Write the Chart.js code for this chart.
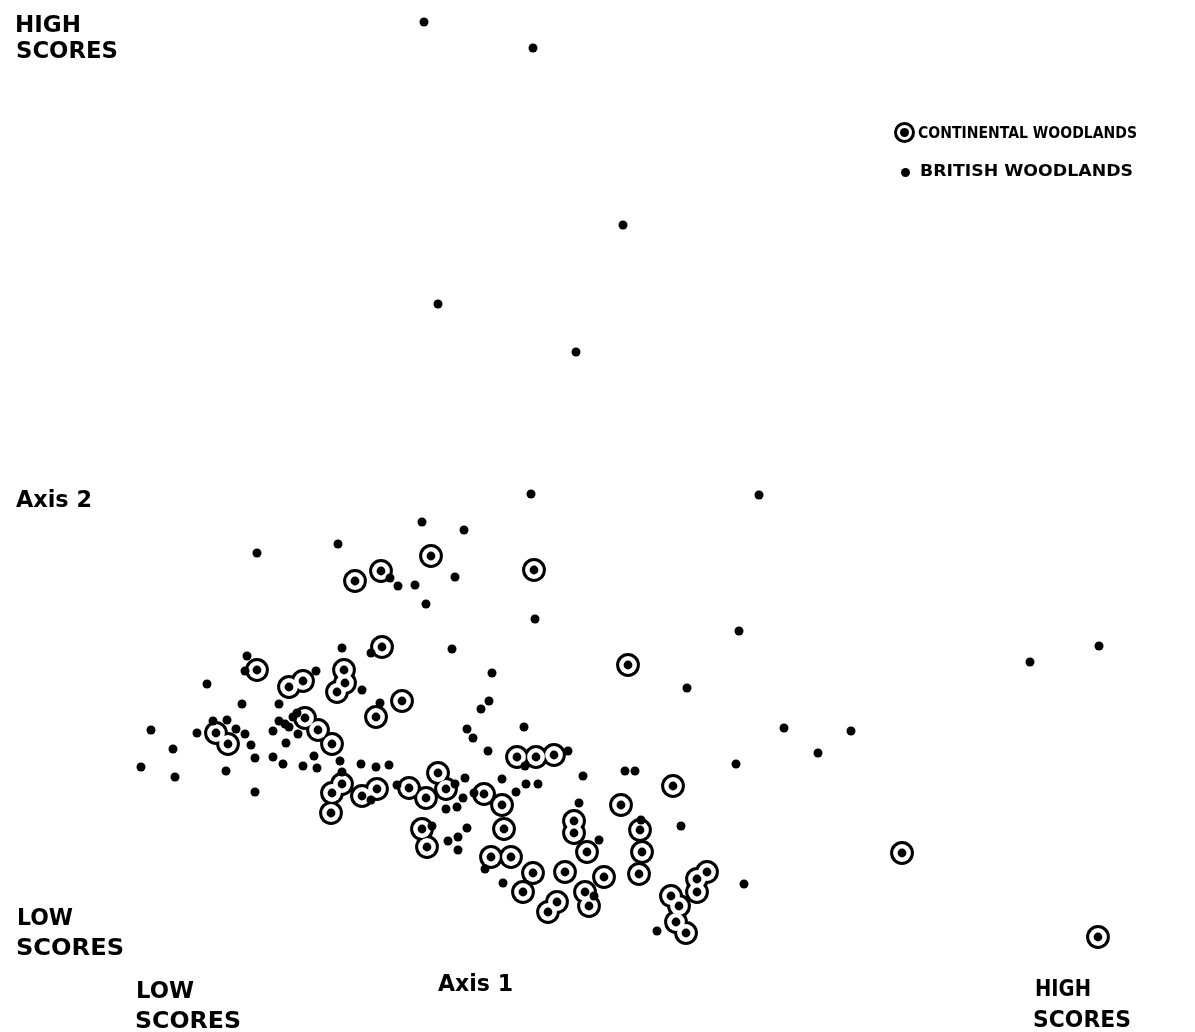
<!DOCTYPE html>
<html>
<head>
<meta charset="utf-8">
<script src="https://cdn.jsdelivr.net/npm/chart.js@4/dist/chart.umd.min.js"></script>
<style>
  html, body { margin: 0; padding: 0; background: #fff; }
  #wrap { position: absolute; left: 0; top: 0; width: 1195px; height: 1032px; }
  .lbl { position: absolute; font-family: "DejaVu Sans", sans-serif; font-weight: bold; color: #000;
         line-height: 1; white-space: nowrap; transform-origin: 0 0; }
  .sym-ring { position: absolute; width: 15px; height: 15px; border: 3px solid #000; border-radius: 50%; background: #fff; }
  .sym-dot { position: absolute; width: 9px; height: 9px; border-radius: 50%; background: #000; }
</style>
</head>
<body>
<div id="wrap"><canvas id="c" width="1195" height="1032"></canvas></div>
<div id="labels"></div>
<script>
// Axis 1 / Axis 2 scores (arbitrary units)
const britishAxis1 = [42.4,53.3,62.3,43.8,57.6,53.1,75.9,42.2,46.4,25.7,33.8,39.0,39.8,41.5,45.5,42.6,53.5,73.9,34.2,37.1,45.2,24.7,24.5,31.6,103.0,109.9,49.2,68.7,20.7,36.2,48.9,48.1,38.0,24.2,27.9,21.3,22.7,15.1,19.7,23.6,24.5,25.1,17.3,14.1,17.5,22.6,25.5,25.5,27.9,28.5,29.3,29.7,27.3,29.8,28.9,28.6,27.3,28.3,30.3,31.4,31.7,34.0,34.2,36.1,37.6,38.9,37.1,39.7,45.5,46.5,46.3,45.7,44.6,47.4,43.2,44.8,45.8,46.7,45.8,48.5,50.3,46.7,47.3,48.8,52.4,56.8,52.5,50.2,52.6,53.8,51.6,58.3,62.5,63.5,57.9,59.9,64.1,68.1,59.4,65.7,78.4,85.1,81.8,73.6,74.4];
const britishAxis2 = [101.0,98.4,80.7,72.8,68.0,53.8,53.7,51.0,50.2,47.9,48.8,45.4,44.6,44.7,45.5,42.8,41.3,40.1,38.4,37.9,38.3,37.6,36.1,36.1,37.0,38.6,35.9,34.4,34.8,34.2,33.1,32.3,32.9,32.8,32.8,31.1,31.2,30.2,29.9,30.3,29.8,28.7,28.3,26.5,25.5,26.1,27.4,24.0,31.1,30.8,31.5,31.9,30.1,29.8,30.5,28.9,27.5,26.8,26.6,27.6,26.4,27.1,26.0,26.8,26.5,26.7,23.2,24.7,24.8,25.4,23.4,22.5,22.3,23.9,20.6,19.1,19.5,20.4,18.2,16.3,14.9,30.3,29.4,28.1,30.5,28.1,26.6,25.3,24.8,24.8,24.0,25.6,26.1,26.1,22.9,19.2,21.2,20.6,13.6,10.1,30.4,30.1,27.9,26.8,14.8];
const continentalAxis1 = [43.1,38.1,35.5,53.4,38.2,62.8,25.7,30.3,28.9,34.4,34.5,33.7,40.2,37.6,21.6,22.8,30.5,31.8,33.2,51.7,53.6,55.4,67.3,34.2,33.2,33.1,37.7,36.2,40.9,42.6,43.8,44.6,48.4,50.2,62.1,42.2,42.7,50.4,57.4,57.4,58.7,64.0,64.2,63.9,49.1,51.1,53.3,52.3,56.5,60.4,58.5,58.9,55.7,54.8,70.7,69.7,69.7,67.1,67.9,67.6,68.6,90.2,109.8];
const continentalAxis2 = [47.6,46.1,45.1,46.2,38.5,36.7,36.2,35.1,34.5,36.2,34.9,34.0,33.1,31.5,29.9,28.8,31.4,30.2,28.8,27.5,27.5,27.7,24.6,24.8,23.9,21.9,24.3,23.6,24.4,23.4,25.9,24.3,23.8,22.7,22.7,20.3,18.5,20.3,21.1,19.9,18.0,20.2,18.0,15.8,17.5,17.5,15.9,14.0,16.0,15.5,14.0,12.6,13.0,12.0,16.0,15.3,14.0,13.6,12.6,11.0,9.9,17.9,9.5];
const seriesNames = ["CONTINENTAL WOODLANDS", "BRITISH WOODLANDS"];
const axisTitles = ["Axis 1", "Axis 2"];
const endLabels = ["LOW", "SCORES", "HIGH"];

const toPts = (xs, ys) => xs.map((x, i) => ({ x: x, y: ys[i] }));
const contPts = toPts(continentalAxis1, continentalAxis2);
const britPts = toPts(britishAxis1, britishAxis2);

new Chart(document.getElementById('c'), {
  type: 'scatter',
  data: {
    datasets: [
      { label: seriesNames[1], data: britPts, order: 0, pointRadius: 4.5, pointBackgroundColor: '#000', pointBorderWidth: 0 },
      { label: seriesNames[0] + ' dot', data: contPts, order: 0, pointRadius: 4.4, pointBackgroundColor: '#000', pointBorderWidth: 0 },
      { label: seriesNames[0] + ' inner', data: contPts, order: 1, pointRadius: 8.9, pointBackgroundColor: '#fff', pointBorderWidth: 0 },
      { label: seriesNames[0], data: contPts, order: 2, pointRadius: 11.9, pointBackgroundColor: '#000', pointBorderWidth: 0 }
    ]
  },
  options: {
    responsive: false,
    animation: false,
    events: [],
    layout: { padding: 0, autoPadding: false },
    plugins: { legend: { display: false }, tooltip: { enabled: false } },
    scales: {
      x: { type: 'linear', min: 0, max: 119.5, display: false },
      y: { type: 'linear', min: 0, max: 103.2, display: false }
    }
  }
});

// text labels: [text, left, baseline, targetWidth, fontSize]
const labels = [
  [endLabels[2], 15, 32, 66, 23],
  [endLabels[1], 16, 58, 102, 23],
  [axisTitles[1], 16, 507, 76, 23],
  [endLabels[0], 17, 925, 56, 23],
  [endLabels[1], 16, 955, 108, 23],
  [axisTitles[0], 438, 991, 75, 23],
  [endLabels[0], 136, 998, 58, 23],
  [endLabels[1], 135, 1028, 106, 23],
  [endLabels[2], 1035, 996, 56, 23],
  [endLabels[1], 1033, 1027, 98, 23],
  [seriesNames[0], 918, 139, 219, 16],
  [seriesNames[1], 920, 177, 213, 16]
];
const host = document.getElementById('labels');
labels.forEach(([t, left, base, w, fs]) => {
  const d = document.createElement('div');
  d.className = 'lbl';
  d.textContent = t;
  d.style.fontSize = fs + 'px';
  d.style.left = left + 'px';
  d.style.top = (base - 0.846 * fs) + 'px';
  host.appendChild(d);
  const mw = d.getBoundingClientRect().width;
  d.style.transform = 'scaleX(' + (w / mw) + ')';
});
// legend symbols
const ring = document.createElement('div'); ring.className = 'sym-ring';
ring.style.left = (904 - 10.5) + 'px'; ring.style.top = (132 - 10.5) + 'px';
const rdot = document.createElement('div'); rdot.className = 'sym-dot';
rdot.style.left = '3px'; rdot.style.top = '3px'; rdot.style.position = 'absolute';
ring.appendChild(rdot);
host.appendChild(ring);
const dot = document.createElement('div'); dot.className = 'sym-dot';
dot.style.left = (905 - 4.5) + 'px'; dot.style.top = (172 - 4.5) + 'px';
host.appendChild(dot);
</script>
</body>
</html>
